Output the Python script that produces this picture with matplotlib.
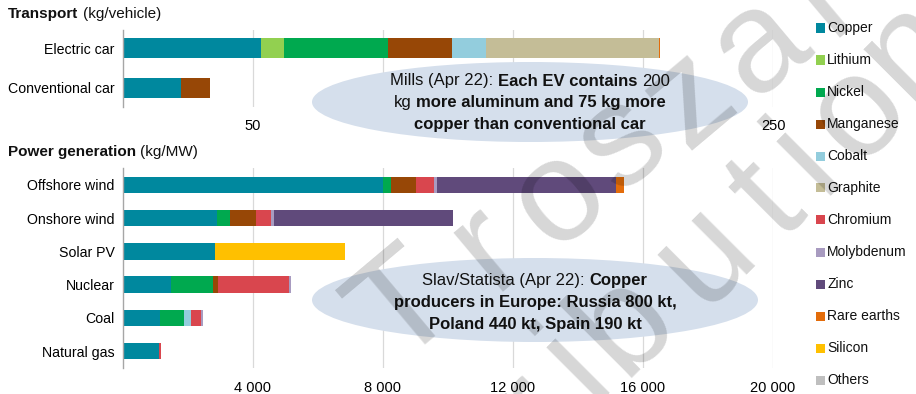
import matplotlib
matplotlib.use("Agg")
import matplotlib.pyplot as plt
from matplotlib.patches import Ellipse, Rectangle
import numpy as np

plt.rcParams['font.family'] = ['Liberation Sans', 'DejaVu Sans']

# materials and colours (legend order = stacking order)
materials = ['Copper', 'Lithium', 'Nickel', 'Manganese', 'Cobalt', 'Graphite',
             'Chromium', 'Molybdenum', 'Zinc', 'Rare earths', 'Silicon', 'Others']
colors = ['#00889E', '#92D050', '#00A94F', '#974706', '#93CDDD', '#C4BD97',
          '#D9464E', '#A89BC0', '#604A7B', '#E36C0A', '#FFC000', '#BFBFBF']

# transport, kg per vehicle
transport_cats = ['Electric car', 'Conventional car']
transport = {
    'Copper': [53.2, 22.3],
    'Lithium': [8.9, 0],
    'Nickel': [39.9, 0],
    'Manganese': [24.5, 11.2],
    'Cobalt': [13.3, 0],
    'Graphite': [66.3, 0],
    'Rare earths': [0.5, 0],
}
transport_ticks = [50, 100, 150, 200, 250]
transport_ticklabels = ['50', '', '', '', '250']

# power generation, kg per MW
power_cats = ['Offshore wind', 'Onshore wind', 'Solar PV', 'Nuclear', 'Coal', 'Natural gas']
power = {
    'Copper': [8000, 2900, 2822, 1473, 1150, 1100],
    'Nickel': [240, 404, 0, 1297, 721, 16],
    'Manganese': [790, 780, 0, 148, 0, 0],
    'Cobalt': [0, 0, 0, 0, 210, 0],
    'Chromium': [525, 470, 0, 2190, 308, 48],
    'Molybdenum': [109, 99, 0, 70, 66, 0],
    'Zinc': [5500, 5500, 0, 0, 0, 0],
    'Rare earths': [239, 14, 0, 0, 0, 0],
    'Silicon': [0, 0, 4000, 0, 0, 0],
}
power_ticks = [4000, 8000, 12000, 16000, 20000]

note1 = [[('Mills (Apr 22):', 'normal'), ('Each EV contains', 'bold'), ('200', 'normal')],
         [('kg', 'normal'), ('more aluminum and 75 kg more', 'bold')],
         [('copper than conventional car', 'bold')]]
note2 = [[('Slav/Statista (Apr 22):', 'normal'), ('Copper', 'bold')],
         [('producers in Europe: Russia 800 kt,', 'bold')],
         [('Poland 440 kt, Spain 190 kt', 'bold')]]

W, H = 916, 394
fig = plt.figure(figsize=(W / 100, H / 100), dpi=100)
renderer = fig.canvas.get_renderer()


def fx(px):
    return px / W


def fy(py):
    return 1 - py / H


def stacked(ax, cats, data, height):
    y = np.arange(len(cats))
    left = np.zeros(len(cats))
    for m, c in zip(materials, colors):
        vals = np.array(data.get(m, [0] * len(cats)), dtype=float)
        if vals.sum() == 0:
            continue
        ax.barh(y, vals, left=left, height=height, color=c, linewidth=0, zorder=2)
        left += vals
    ax.set_yticks(y)
    ax.set_yticklabels(cats)
    for s in ['top', 'right', 'bottom']:
        ax.spines[s].set_visible(False)
    ax.spines['left'].set_color('#A6A6A6')
    ax.spines['left'].set_linewidth(1.0)
    ax.spines['left'].set_zorder(3)
    ax.grid(axis='x', color='#D9D9D9', linewidth=0.9, zorder=0)
    ax.set_axisbelow(True)
    ax.tick_params(length=0, labelsize=10.5)
    ax.tick_params(axis='y', pad=6, labelsize=10.2)
    ax.tick_params(axis='x', pad=9)


ax1 = fig.add_axes([fx(123), fy(107), 650 / W, 77 / H])
stacked(ax1, transport_cats, transport, 0.5)
ax1.set_xlim(0, 250)
ax1.set_ylim(1.49, -0.46)
ax1.set_xticks(transport_ticks)
ax1.set_xticklabels(transport_ticklabels)

ax2 = fig.add_axes([fx(123), fy(368), 650 / W, 200 / H])
stacked(ax2, power_cats, power, 0.5)
ax2.set_xlim(0, 20000)
ax2.set_ylim(5.51, -0.51)
ax2.set_xticks(power_ticks)
ax2.set_xticklabels([f'{t:,}'.replace(',', ' ') for t in power_ticks])


def text_width(s, weight, size):
    t = fig.text(0, 0, s, size=size, weight=weight)
    w = t.get_window_extent(renderer).width
    t.remove()
    return w


def rich_line(x, y, parts, size, ha='center', zorder=6):
    # parts: list of (text, weight), joined by single spaces
    sp = text_width('x x', 'normal', size) - text_width('xx', 'normal', size)
    widths = [text_width(s, w, size) for s, w in parts]
    total = sum(widths) + sp * (len(parts) - 1)
    cx = x - total / 2 if ha == 'center' else x
    for (s, w), wd in zip(parts, widths):
        fig.text(fx(cx), fy(y), s, size=size, weight=w, ha='left', va='center',
                 color='#111111', zorder=zorder)
        cx += wd + sp


# panel titles
rich_line(8, 14, [('Transport', 'bold'), ('(kg/vehicle)', 'normal')], 11, ha='left')
rich_line(8, 152, [('Power generation', 'bold'), ('(kg/MW)', 'normal')], 11, ha='left')

# legend on the right
for i, (m, c) in enumerate(zip(materials, colors)):
    yc = 28 + i * 32.0
    fig.add_artist(Rectangle((fx(816), fy(yc + 4.5)), 9 / W, 9 / H,
                             transform=fig.transFigure, color=c, lw=0))
    fig.text(fx(827), fy(yc), m, size=10, va='center', ha='left', color='#111111')

# callout ellipses with notes
for (cx, cy, ew, eh), lines, ys in [((530, 102, 436, 80), note1, (81, 103, 125)),
                                     ((535, 300, 446, 84), note2, (281, 303, 325))]:
    fig.add_artist(Ellipse((fx(cx), fy(cy)), ew / W, eh / H, transform=fig.transFigure,
                           facecolor='#D5DFEC', edgecolor='none', zorder=5))
    for parts, ly in zip(lines, ys):
        rich_line(cx, ly, parts, 12)

# diagonal watermark, letter by letter
wm_lines = [
    ('Troszar', 40, [(396, 298), (478, 236), (550, 186), (612, 132), (680, 88), (750, 34), (815, -18)]),
    ('ribution', 45, [(522, 402), (566, 354), (614, 312), (694, 244), (758, 190), (796, 148),
                      (848, 102), (900, 38)]),
]
for word, rot, pos in wm_lines:
    for ch, (px, py) in zip(word, pos):
        fig.text(fx(px), fy(py), ch, size=104, weight='normal', rotation=rot,
                 rotation_mode='anchor', ha='center', va='center_baseline',
                 color='black', alpha=0.16, zorder=10)

fig.savefig('out.png', dpi=100)
